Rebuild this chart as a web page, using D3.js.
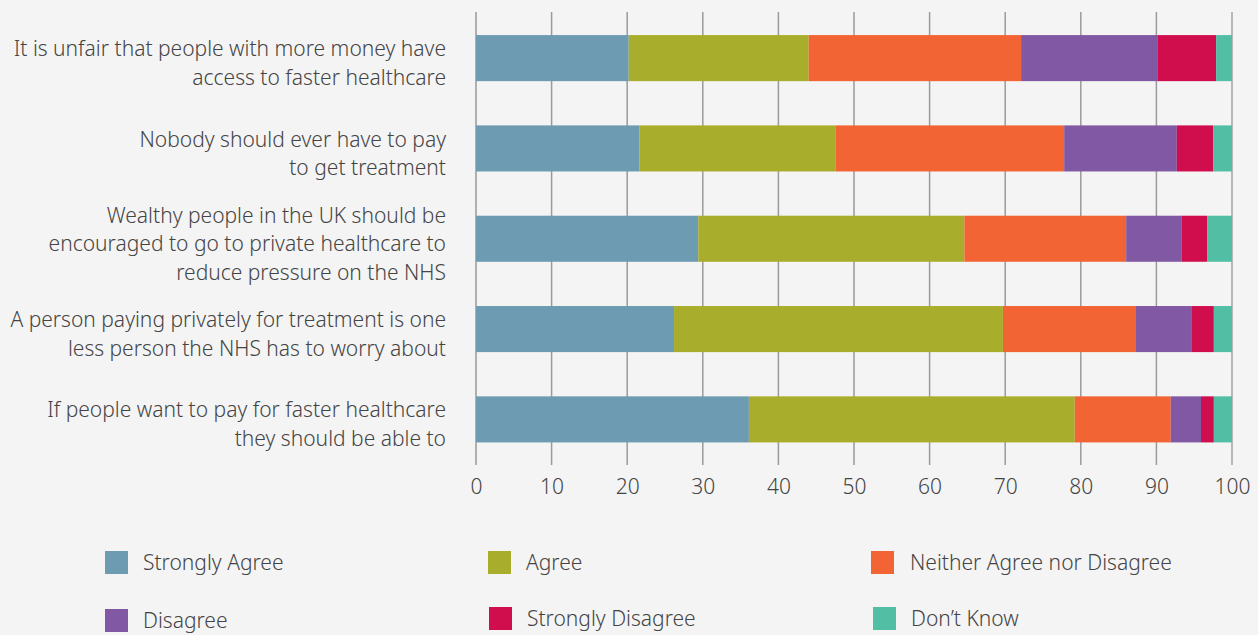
<!DOCTYPE html>
<html>
<head>
<meta charset="utf-8">
<script src="https://cdn.jsdelivr.net/npm/d3@7/dist/d3.min.js"></script>
<style>
  html, body { margin: 0; padding: 0; background: #f4f4f4; }
  svg { display: block; }
  text { font-family: "Noto Sans", "Open Sans", sans-serif; font-weight: 300; fill: #444; }
</style>
</head>
<body>
<svg id="chart" width="1258" height="635"></svg>
<script>
// Survey statements (each label split into its drawn lines)
const statements = [
  ["It is unfair that people with more money have", "access to faster healthcare"],
  ["Nobody should ever have to pay", "to get treatment"],
  ["Wealthy people in the UK should be", "encouraged to go to private healthcare to", "reduce pressure on the NHS"],
  ["A person paying privately for treatment is one", "less person the NHS has to worry about"],
  ["If people want to pay for faster healthcare", "they should be able to"]
];

// Response categories and their colours
const responses = ["Strongly Agree", "Agree", "Neither Agree nor Disagree", "Disagree", "Strongly Disagree", "Don\u2019t Know"];
const colours = ["#6d9bb1", "#a8ad2b", "#f26434", "#8058a3", "#d00d4d", "#52bfa4"];

// Percentage of respondents per response, one array per response category (statement order)
const stronglyAgree    = [20.2, 21.6, 29.4, 26.2, 36.1];
const agree            = [23.8, 26.0, 35.2, 43.5, 43.1];
const neither          = [28.1, 30.2, 21.4, 17.6, 12.7];
const disagree         = [18.1, 14.9,  7.3,  7.4,  4.0];
const stronglyDisagree = [ 7.7,  4.8,  3.4,  2.9,  1.7];
const dontKnow         = [ 2.1,  2.5,  3.3,  2.4,  2.4];

const xTicks = [0, 10, 20, 30, 40, 50, 60, 70, 80, 90, 100];

const series = [stronglyAgree, agree, neither, disagree, stronglyDisagree, dontKnow];
const rows = statements.map((s, i) => {
  const r = { id: i };
  responses.forEach((k, j) => r[k] = series[j][i]);
  return r;
});
const stacked = d3.stack().keys(responses)(rows);

const svg = d3.select("#chart");
const x = d3.scaleLinear().domain([0, 100]).range([476, 1232]);
const y = d3.scaleBand().domain(d3.range(statements.length)).range([12.5, 465]).paddingInner(0.49).paddingOuter(0.25);
const colour = d3.scaleOrdinal().domain(responses).range(colours);

// Vertical gridlines
svg.append("g").selectAll("line").data(xTicks).join("line")
  .attr("x1", d => x(d)).attr("x2", d => x(d))
  .attr("y1", 12).attr("y2", 465)
  .attr("stroke", d => d === 100 ? "#b8b8b8" : "#9a9a9a")
  .attr("stroke-width", d => d === 100 ? 2 : 1.5);

// Stacked bars
svg.append("g").selectAll("g").data(stacked).join("g")
  .attr("fill", d => colour(d.key))
  .selectAll("rect").data(d => d).join("rect")
  .attr("x", d => x(d[0]))
  .attr("width", d => x(d[1]) - x(d[0]))
  .attr("y", (d, i) => y(i))
  .attr("height", y.bandwidth());

// X axis labels
const xAxis = d3.axisBottom(x).tickValues(xTicks).tickSize(0).tickPadding(0);
const gx = svg.append("g").attr("transform", "translate(0,478)").call(xAxis);
gx.select(".domain").remove();
gx.selectAll("text")
  .attr("font-size", 21).attr("dy", "0.75em")
  .style("font-family", "\"Noto Sans\", sans-serif").style("font-weight", 300).attr("fill", "#444");

// Statement labels, right-aligned beside the bars
const labels = svg.append("g").selectAll("text").data(statements).join("text")
  .attr("text-anchor", "end")
  .attr("font-size", 21);
labels.each(function(lines, i) {
  const t = d3.select(this);
  const cy = y(i) + y.bandwidth() / 2 + 5;
  const lh = 28.5;
  lines.forEach((ln, k) => {
    t.append("tspan")
      .attr("x", 446)
      .attr("y", cy + (k - (lines.length - 1) / 2) * lh)
      .attr("dy", "0.35em")
      .text(ln);
  });
});

// Legend
const legendPos = [
  { sx: 105, sy: 551, tx: 143 },
  { sx: 488, sy: 551, tx: 526 },
  { sx: 871, sy: 551, tx: 910 },
  { sx: 105, sy: 609, tx: 143 },
  { sx: 489, sy: 607, tx: 527 },
  { sx: 873, sy: 607, tx: 911 }
];
const legend = svg.append("g").selectAll("g").data(responses).join("g");
legend.append("rect")
  .attr("x", (d, i) => legendPos[i].sx).attr("y", (d, i) => legendPos[i].sy)
  .attr("width", 23).attr("height", 23)
  .attr("fill", d => colour(d));
legend.append("text")
  .attr("x", (d, i) => legendPos[i].tx)
  .attr("y", (d, i) => legendPos[i].sy + 11.5)
  .attr("dy", "0.35em")
  .attr("font-size", 21)
  .text(d => d);
</script>
</body>
</html>
